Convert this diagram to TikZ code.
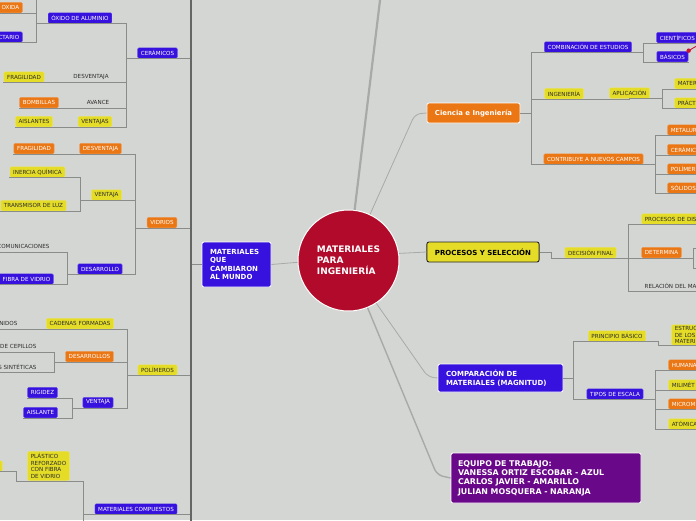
\documentclass[tikz,border=0pt]{standalone}
\usepackage{fontspec}
\setmainfont{DejaVu Sans}
\definecolor{bgc}{RGB}{212,214,211}
\definecolor{mmblue}{RGB}{55,18,222}
\definecolor{mmorange}{RGB}{234,118,20}
\definecolor{mmyellow}{RGB}{228,220,38}
\definecolor{mmpurple}{RGB}{106,8,138}
\definecolor{mmred}{RGB}{178,10,42}
\definecolor{txt}{RGB}{45,45,45}
\definecolor{lnc}{RGB}{138,140,137}
\definecolor{trk}{RGB}{100,102,99}
\definecolor{lkc}{RGB}{168,170,167}
\definecolor{relc}{RGB}{205,20,50}

\begin{document}
\begin{tikzpicture}[x=1pt,y=-1pt,
 bx/.style={rounded corners=1.2pt, inner xsep=3.2pt, inner ysep=0pt, minimum height=10.5pt, outer sep=0.6pt, font=\fontsize{5.6}{6.6}\selectfont},
 bl/.style={bx, fill=mmblue, draw=mmblue!75!white, text=white},
 og/.style={bx, fill=mmorange, draw=mmorange!75!white, text=white},
 yl/.style={bx, fill=mmyellow, draw=mmyellow!75!white, text=txt},
 pl/.style={inner xsep=1pt, inner ysep=0pt, minimum height=10.5pt, outer sep=0.6pt, text=txt, font=\fontsize{5.6}{6.6}\selectfont},
 cutl/.style={anchor=east, text width=#1, align=right},
 cutr/.style={anchor=west, text width=60pt, align=left},
 big/.style={rounded corners=2pt, draw=white, line width=0.8pt, text=white, align=left, font=\bfseries\fontsize{7}{8.3}\selectfont},
 ln/.style={draw=lnc, line width=0.9pt},
 lk/.style={draw=lkc, line width=0.8pt, rounded corners=6pt},
]
 \useasboundingbox (0,0) rectangle (696,520);
 \clip (0,0) rectangle (696,520);
 \fill[bgc] (0,0) rectangle (696,520);
 % bus columns (only x matters)
 \foreach \n/\x in {busA/36, busB/126, busC/80, busD/67, busE/135, busF/54, busG/72, busH/127, busI/16, busJ/83, trunk/191,
   busK/531, busL/643, busM/662, busN/655, pstep/551, busO/628, busP/693, busQ/573, busR/658, busS/655}
   \coordinate (\n) at (\x,0);
 \coordinate (topA) at (36,-5); \coordinate (botJ) at (83,525);
 \coordinate (trtop) at (191,-5); \coordinate (trbot) at (191,525);
 \coordinate (offC1) at (700,248); \coordinate (offC2) at (700,268);
 \coordinate (topend) at (381,-8); \coordinate (relend) at (700,44);
 \coordinate (cbend) at (415,114); \coordinate (kbend) at (428,377); \coordinate (ebend) at (437,475);

 % main topics
 \node[circle, fill=mmred, draw=white, line width=1pt, minimum size=101pt, inner sep=0pt, text=white, align=left,
   font=\bfseries\fontsize{9}{11}\selectfont] (core) at (348.5,260.5) {MATERIALES\\PARA\\INGENIERÍA};
 \node[big, fill=mmblue, text width=53pt, inner xsep=8pt, minimum height=45pt] (mundo) at (236.5,264.5)
   {MATERIALES\\QUE\\CAMBIARON\\AL MUNDO};
 \node[big, fill=mmorange, inner xsep=8pt, minimum height=20pt, font=\bfseries\fontsize{6.9}{8}\selectfont] (ciencia) at (473.5,113)
   {Ciencia e Ingeniería};
 \node[big, fill=mmyellow, draw=black!85, line width=0.9pt, text=black, inner xsep=8pt, minimum height=20pt] (procesos) at (483,252)
   {PROCESOS Y SELECCIÓN};
 \node[big, fill=mmblue, text width=109pt, inner xsep=8pt, minimum height=28pt, font=\bfseries\fontsize{7}{9.5}\selectfont]
   (comparacion) at (500.5,378) {COMPARACIÓN DE\\MATERIALES (MAGNITUD)};
 \node[big, fill=mmpurple, text width=176pt, inner xsep=7pt, minimum height=50pt, font=\bfseries\fontsize{7.9}{9.4}\selectfont]
   (equipo) at (546,478) {EQUIPO DE TRABAJO:\\VANESSA ORTIZ ESCOBAR - AZUL\\CARLOS JAVIER - AMARILLO\\JULIAN MOSQUERA - NARANJA};

 % ceramicos
 \node[og, cutl=40pt] (oxida) at (23,7.5) {OXIDA};
 \node[bl, cutl=40pt] (ctario) at (23,37) {CTARIO};
 \node[bl] (oxido) at (80,18) {ÓXIDO DE ALUMINIO};
 \node[yl] (fragA) at (24,77) {FRAGILIDAD};
 \node[pl] (desvA) at (91,77) {DESVENTAJA};
 \node[og] (bomb) at (39,102.5) {BOMBILLAS};
 \node[pl] (avance) at (98,102.5) {AVANCE};
 \node[yl] (aislA) at (34,121.5) {AISLANTES};
 \node[yl] (ventA) at (95,121.5) {VENTAJAS};
 \node[bl] (ceram) at (157.5,53) {CERÁMICOS};
 % vidrios
 \node[og] (fragB) at (34,148.5) {FRAGILIDAD};
 \node[og] (desvB) at (100.5,148.5) {DESVENTAJA};
 \node[yl] (inercia) at (37.5,172) {INERCIA QUÍMICA};
 \node[yl] (transm) at (33.5,205.5) {TRANSMISOR DE LUZ};
 \node[yl] (ventB) at (106.5,195) {VENTAJA};
 \node[pl, cutl=60pt] (telecom) at (51,246.5) {COMUNICACIONES};
 \node[bl, cutl=60pt] (fibra) at (54,279) {FIBRA DE VIDRIO};
 \node[bl] (desarr) at (100,269) {DESARROLLO};
 \node[og] (vidrios) at (162,222.5) {VIDRIOS};
 % polimeros
 \node[pl, cutl=40pt] (unidos) at (19,323.5) {NIDOS};
 \node[yl] (cadenas) at (80,323.5) {CADENAS FORMADAS};
 \node[pl, cutl=60pt] (cepillos) at (38,346.5) {DE CEPILLOS};
 \node[pl, cutl=60pt] (sintet) at (38,366.5) {S SINTÉTICAS};
 \node[og] (desarrs) at (89.5,356.5) {DESARROLLOS};
 \node[yl] (polim) at (157.5,370) {POLÍMEROS};
 \node[bl] (rigidez) at (42.5,392.5) {RIGIDEZ};
 \node[bl] (aislB) at (40.5,412.5) {AISLANTE};
 \node[bl] (ventC) at (98,402.5) {VENTAJA};
 % compuestos
 \node[yl, cutl=30pt] (cutY) at (3,466) {};
 \node[yl, align=left, inner ysep=2pt] (plastico) at (48.5,466) {PLÁSTICO\\REFORZADO\\CON FIBRA\\DE VIDRIO};
 \node[bl] (compu) at (136,509) {MATERIALES COMPUESTOS};

 % ciencia e ingenieria
 \node[bl] (combin) at (588,47) {COMBINACIÓN DE ESTUDIOS};
 \node[bl, cutr] (cientif) at (656,37.5) {CIENTÍFICOS};
 \node[bl] (basicos) at (672.5,56.5) {BÁSICOS};
 \node[yl] (ingen) at (564,93.5) {INGENIERÍA};
 \node[yl] (aplic) at (629.5,93) {APLICACIÓN};
 \node[yl, cutr] (mater) at (674,83.5) {MATER};
 \node[yl, cutr] (pract) at (674,103) {PRÁCT};
 \node[og] (contrib) at (593.5,159) {CONTRIBUYE A NUEVOS CAMPOS};
 \node[og, cutr] (metal) at (667,130) {METALUR};
 \node[og, cutr] (ceramR) at (667,149.5) {CERÁMIC};
 \node[og, cutr] (polimR) at (667,169) {POLÍMER};
 \node[og, cutr] (solid) at (667,188) {SÓLIDOS};
 % procesos
 \node[yl] (decis) at (590.5,252.5) {DECISIÓN FINAL};
 \node[yl, cutr] (procdis) at (641,219) {PROCESOS DE DIS};
 \node[og] (determ) at (661.5,252.5) {DETERMINA};
 \node[pl, cutr] (relac) at (643,285.5) {RELACIÓN DEL MA};
 % comparacion
 \node[yl] (princ) at (617,336) {PRINCIPIO BÁSICO};
 \node[yl, cutr, inner ysep=1.5pt] (estruc) at (671,335) {ESTRUC\\DE LOS\\MATERI};
 \node[bl] (tipos) at (615,394) {TIPOS DE ESCALA};
 \node[og, cutr] (humana) at (668,365) {HUMANA};
 \node[yl, cutr] (milim) at (668,385) {MILIMÉT};
 \node[og, cutr] (microm) at (668,404) {MICROM};
 \node[yl, cutr] (atom) at (668,424) {ATÓMICA};

 % links from the centre
 \draw[lkc, line width=2.2pt] (core) -- (topend);
 \draw[lk] (core.182) -- (mundo.east);
 \draw[lk] (core.65) -- (cbend) -- (ciencia.west);
 \draw[lk] (core.8) -- (procesos.west);
 \draw[lk] (core.-57) -- (kbend) -- (comparacion.west);
 \draw[lk, line width=1.4pt] (core.-68) -- (ebend) -- (equipo.west);

 % left side: child underline -> bus -> parent underline
 \foreach \c/\b/\p in {oxida/busA/oxido.south east, ctario/busA/oxido.south east,
   oxido/busB/ceram.south east, fragA/desvA/desvA.south east, desvA/busB/ceram.south east,
   bomb/avance/avance.south east, avance/busB/ceram.south east, aislA/ventA/ventA.south east, ventA/busB/ceram.south east,
   fragB/desvB/desvB.south east, desvB/busE/vidrios.south east, inercia/busC/ventB.south east, transm/busC/ventB.south east,
   ventB/busE/vidrios.south east, telecom/busD/desarr.south east, fibra/busD/desarr.south east, desarr/busE/vidrios.south east,
   unidos/cadenas/cadenas.south east, cadenas/busH/polim.south east, cepillos/busF/desarrs.south east,
   sintet/busF/desarrs.south east, desarrs/busH/polim.south east, rigidez/busG/ventC.south east,
   aislB/busG/ventC.south east, ventC/busH/polim.south east,
   cutY/busI/plastico.south east, plastico/busJ/compu.south east}
   \draw[ln] (\c.south west) -- (\c.south west -| \b) -- (\p -| \b) -- (\p);
 \draw[ln] (oxida.south west -| busA) -- (topA);
 \draw[ln] (compu.south west -| busJ) -- (botJ);
 \foreach \c in {ceram, vidrios, polim, compu}
   \draw[ln] (\c.south west) -- (\c.south west -| trunk);
 \draw[ln] (mundo.west) -- (mundo.west -| trunk);
 \draw[trk, line width=1.2pt] (trtop) -- (trbot);

 % right side: parent -> bus -> child underline
 \foreach \c/\b/\p in {combin/busK/ciencia.east, ingen/busK/ciencia.east, contrib/busK/ciencia.east,
   cientif/busL/combin.south east, basicos/busL/combin.south east, aplic/aplic/ingen.south east,
   mater/busM/aplic.south east, pract/busM/aplic.south east,
   metal/busN/contrib.south east, ceramR/busN/contrib.south east, polimR/busN/contrib.south east, solid/busN/contrib.south east,
   decis/pstep/procesos.east, procdis/busO/decis.south east, determ/busO/decis.south east, relac/busO/decis.south east,
   princ/busQ/comparacion.east, tipos/busQ/comparacion.east, estruc/busR/princ.south east,
   humana/busS/tipos.south east, milim/busS/tipos.south east, microm/busS/tipos.south east, atom/busS/tipos.south east}
   \draw[ln] (\p) -- (\p -| \b) -- (\c.south east -| \b) -- (\c.south east);
 \draw[ln] (determ.south east) -- (determ.south east -| busP);
 \draw[ln] (offC1) -- (offC1 -| busP) -- (offC2 -| busP) -- (offC2);

 % relation marker
 \draw[relc, line width=0.9pt] (basicos.north east) -- (relend);
 \fill[relc] (basicos.north east) circle (2.2pt);
\end{tikzpicture}
\end{document}
